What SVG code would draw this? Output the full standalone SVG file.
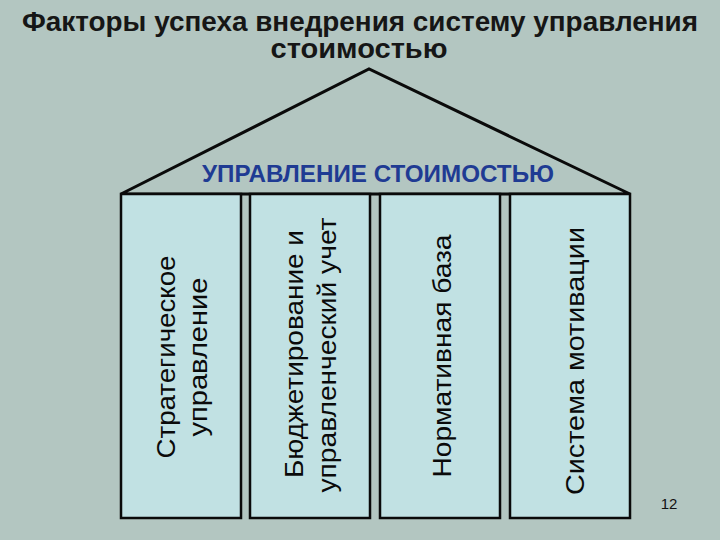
<svg xmlns="http://www.w3.org/2000/svg" width="720" height="540" viewBox="0 0 720 540">
<style>
.title{font-family:"Liberation Sans",Arial,sans-serif;font-weight:bold;font-size:27px;fill:#161616;text-anchor:middle}
.roofText{font-family:"Liberation Sans",Arial,sans-serif;font-weight:bold;font-size:24px;fill:#1f3b93;text-anchor:middle}
.col{fill:#c1e1e3;stroke:#0a0a0a;stroke-width:2.5}
.lbl{font-family:"Liberation Sans",Arial,sans-serif;font-size:26px;fill:#0a0a0a;text-anchor:middle}
.num{font-family:"Liberation Sans",Arial,sans-serif;font-size:15px;fill:#111;text-anchor:middle}
</style>
<rect width="720" height="540" fill="#b3c6c1"/>
<g id="title">
<text class="title" x="360" y="31" textLength="676" lengthAdjust="spacingAndGlyphs">Факторы успеха внедрения систему управления</text>
<text class="title" x="359" y="58" textLength="177" lengthAdjust="spacingAndGlyphs">стоимостью</text>
</g>
<g id="roof">
<polygon points="121,194 369,69 630,194" fill="#b3c6c1" stroke="#0a0a0a" stroke-width="3" stroke-linejoin="miter"/>
<text class="roofText" x="378" y="182" textLength="352" lengthAdjust="spacingAndGlyphs">УПРАВЛЕНИЕ СТОИМОСТЬЮ</text>
</g>
<g id="col1">
<rect class="col" x="121" y="194" width="120" height="324"/>
<text class="lbl" transform="translate(175,357) rotate(-90)" textLength="203" lengthAdjust="spacingAndGlyphs">Стратегическое</text>
<text class="lbl" transform="translate(207,357) rotate(-90)" textLength="159" lengthAdjust="spacingAndGlyphs">управление</text>
</g>
<g id="col2">
<rect class="col" x="250" y="194" width="120" height="324"/>
<text class="lbl" transform="translate(303,354) rotate(-90)" textLength="248" lengthAdjust="spacingAndGlyphs">Бюджетирование и</text>
<text class="lbl" transform="translate(336,355) rotate(-90)" textLength="275" lengthAdjust="spacingAndGlyphs">управленческий учет</text>
</g>
<g id="col3">
<rect class="col" x="380" y="194" width="120" height="324"/>
<text class="lbl" transform="translate(451,356) rotate(-90)" textLength="243" lengthAdjust="spacingAndGlyphs">Нормативная база</text>
</g>
<g id="col4">
<rect class="col" x="510" y="194" width="120" height="324"/>
<text class="lbl" transform="translate(584,361) rotate(-90)" textLength="268" lengthAdjust="spacingAndGlyphs">Система мотивации</text>
</g>
<g id="page">
<text class="num" x="669" y="509">12</text>
</g>
</svg>
